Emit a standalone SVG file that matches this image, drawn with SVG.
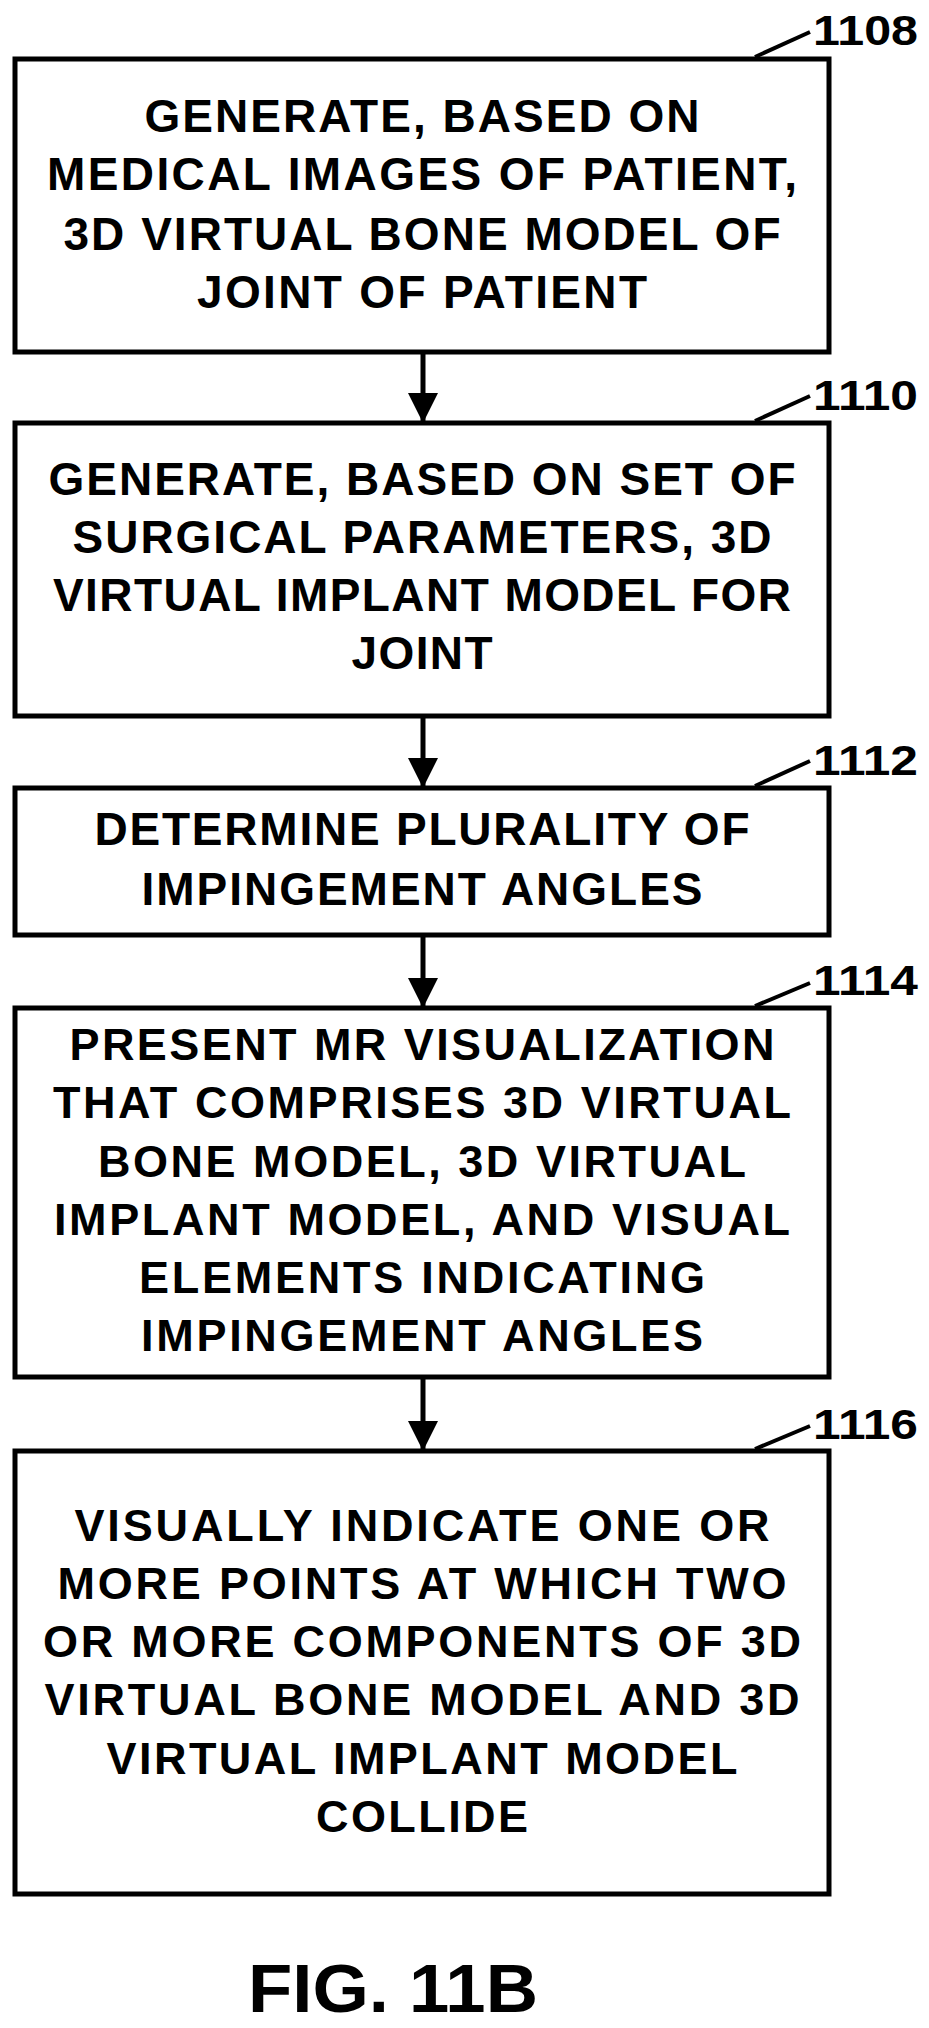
<svg xmlns="http://www.w3.org/2000/svg" width="929" height="2028" viewBox="0 0 929 2028">
<style>
.box{fill:#fff;stroke:#000;stroke-width:5}
.t{font-family:"Liberation Sans",Arial,sans-serif;font-weight:bold;font-size:46px;text-anchor:middle;fill:#000}
.w{font-size:45px}
.lbl{font-family:"Liberation Sans",Arial,sans-serif;font-weight:bold;font-size:43px;fill:#000}
.ld{stroke:#000;stroke-width:4;fill:none}
.c{stroke:#000;stroke-width:5;fill:none}
</style>
<defs><marker id="ah" markerWidth="30" markerHeight="45" refX="30" refY="22.5" orient="auto" markerUnits="userSpaceOnUse"><path d="M0,7.5 L30,22.5 L0,37.5 Z" fill="#000"/></marker></defs>
<rect width="929" height="2028" fill="#fff"/>
<g id="n1108">
<rect class="box" x="15" y="59" width="814" height="293"/>
<text class="t" lengthAdjust="spacingAndGlyphs"><tspan x="422" y="132" textLength="555">GENERATE, BASED ON</tspan><tspan x="422" y="190" textLength="750">MEDICAL IMAGES OF PATIENT,</tspan><tspan x="422" y="250" textLength="717">3D VIRTUAL BONE MODEL OF</tspan><tspan x="422" y="308" textLength="450">JOINT OF PATIENT</tspan></text>
<line class="ld" x1="755" y1="57" x2="810" y2="32"/><text class="lbl" x="813" y="45" textLength="105" lengthAdjust="spacingAndGlyphs">1108</text>
</g>
<g id="n1110">
<rect class="box" x="15" y="423" width="814" height="293"/>
<text class="t" lengthAdjust="spacingAndGlyphs"><tspan x="422" y="495" textLength="747">GENERATE, BASED ON SET OF</tspan><tspan x="422" y="553" textLength="699">SURGICAL PARAMETERS, 3D</tspan><tspan x="422" y="611" textLength="738">VIRTUAL IMPLANT MODEL FOR</tspan><tspan x="422" y="669" textLength="141">JOINT</tspan></text>
<line class="ld" x1="755" y1="421" x2="810" y2="396"/><text class="lbl" x="813" y="410" textLength="105" lengthAdjust="spacingAndGlyphs">1110</text>
</g>
<g id="n1112">
<rect class="box" x="15" y="788" width="814" height="147"/>
<text class="t" lengthAdjust="spacingAndGlyphs"><tspan x="422" y="845" textLength="655">DETERMINE PLURALITY OF</tspan><tspan x="422" y="905" textLength="561">IMPINGEMENT ANGLES</tspan></text>
<line class="ld" x1="755" y1="786" x2="810" y2="761"/><text class="lbl" x="813" y="775" textLength="105" lengthAdjust="spacingAndGlyphs">1112</text>
</g>
<g id="n1114">
<rect class="box" x="15" y="1008" width="814" height="369"/>
<text class="t w" lengthAdjust="spacingAndGlyphs"><tspan x="422" y="1060" textLength="705">PRESENT MR VISUALIZATION</tspan><tspan x="422" y="1118" textLength="738">THAT COMPRISES 3D VIRTUAL</tspan><tspan x="422" y="1177" textLength="648">BONE MODEL, 3D VIRTUAL</tspan><tspan x="422" y="1235" textLength="736">IMPLANT MODEL, AND VISUAL</tspan><tspan x="422" y="1293" textLength="566">ELEMENTS INDICATING</tspan><tspan x="422" y="1351" textLength="562">IMPINGEMENT ANGLES</tspan></text>
<line class="ld" x1="755" y1="1006" x2="810" y2="983"/><text class="lbl" x="813" y="995" textLength="105" lengthAdjust="spacingAndGlyphs">1114</text>
</g>
<g id="n1116">
<rect class="box" x="15" y="1451" width="814" height="443"/>
<text class="t w" lengthAdjust="spacingAndGlyphs"><tspan x="422" y="1541" textLength="695">VISUALLY INDICATE ONE OR</tspan><tspan x="422" y="1599" textLength="729">MORE POINTS AT WHICH TWO</tspan><tspan x="422" y="1657" textLength="758">OR MORE COMPONENTS OF 3D</tspan><tspan x="422" y="1715" textLength="755">VIRTUAL BONE MODEL AND 3D</tspan><tspan x="422" y="1774" textLength="631">VIRTUAL IMPLANT MODEL</tspan><tspan x="422" y="1832" textLength="212">COLLIDE</tspan></text>
<line class="ld" x1="755" y1="1449" x2="810" y2="1426"/><text class="lbl" x="813" y="1439" textLength="105" lengthAdjust="spacingAndGlyphs">1116</text>
</g>
<g id="connectors">
<line class="c" x1="423" y1="352" x2="423" y2="423" marker-end="url(#ah)"/>
<line class="c" x1="423" y1="716" x2="423" y2="788" marker-end="url(#ah)"/>
<line class="c" x1="423" y1="935" x2="423" y2="1008" marker-end="url(#ah)"/>
<line class="c" x1="423" y1="1377" x2="423" y2="1451" marker-end="url(#ah)"/>
</g>
<text class="t" style="font-size:68px" x="393" y="2012" textLength="290" lengthAdjust="spacingAndGlyphs">FIG. 11B</text>
</svg>
